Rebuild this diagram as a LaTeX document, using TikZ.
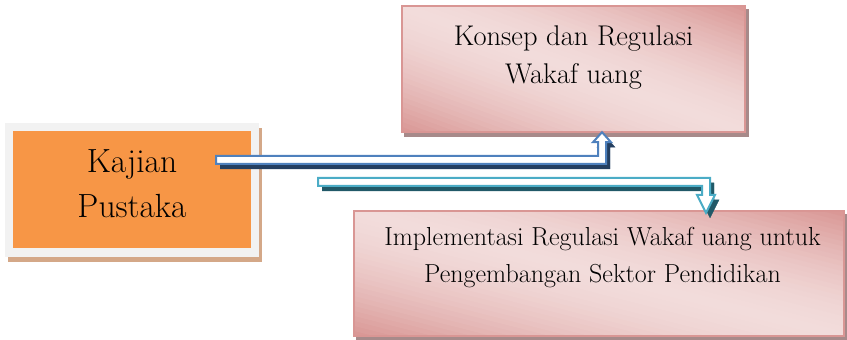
\documentclass[tikz,border=0pt]{standalone}
\definecolor{kajianorange}{RGB}{247,150,70}
\definecolor{kajianframe}{RGB}{242,242,242}
\definecolor{kajianshadow}{RGB}{212,168,136}
\definecolor{pinkdark}{RGB}{217,150,148}
\definecolor{pinklight}{RGB}{242,220,219}
\definecolor{pinkshadow}{RGB}{167,138,138}
\definecolor{arrowblue}{RGB}{79,129,189}
\definecolor{arrownavy}{RGB}{36,63,96}
\definecolor{arrowteal}{RGB}{75,172,198}
\definecolor{arrowdeep}{RGB}{33,89,104}

\begin{document}
\begin{tikzpicture}[x=1pt,y=1pt,
    arrowshadow/.style={preaction={fill=#1,draw=#1,transform canvas={shift={(4pt,-5pt)}}}},
    topic/.style={rectangle,inner sep=0pt},
    boxtext/.style={align=center,anchor=north,inner sep=0pt,transform shape,
        font=\fontsize{29}{#1}\selectfont},
    bentarrow/.style={draw=#1,fill=white,line width=2pt}]

    \useasboundingbox (0,0) rectangle (847,-340);

    % Boxes
    \node[rectangle,fill=kajianframe,minimum width=254pt,minimum height=134pt,inner sep=0pt,
        preaction={fill=kajianshadow,transform canvas={shift={(3pt,-5pt)}}},
        path picture={\fill[kajianorange] ([shift={(8pt,9pt)}]path picture bounding box.south west)
            rectangle ([shift={(-8pt,-8pt)}]path picture bounding box.north east);}]
        at (132,-190) (kajian) {};
    \node[topic,minimum width=342.5pt,minimum height=125.5pt] at (573.5,-69) (konsep) {};
    \node[topic,minimum width=489.5pt,minimum height=124.5pt] at (599,-273.5) (impl) {};

    % Pink gradient, shadow and border of the two topic boxes
    \foreach \topicname/\w/\h in {konsep/342.5/125.5,impl/489.5/124.5}{
        \fill[pinkshadow] ([shift={(1.75pt,-5.25pt)}]\topicname.south west) rectangle ([shift={(4.25pt,-2.75pt)}]\topicname.north east);
        \begin{scope}
            \clip (\topicname.south west) rectangle (\topicname.north east);
            \begin{scope}[shift={(\topicname.south west)},x=\w pt,y=\h pt]
                \foreach \t in {0,0.04,...,1.97}{
                    \pgfmathsetmacro\pct{100*(1-abs(\t+0.02-1)^1.6)}
                    \fill[pinklight!\pct!pinkdark] (\t,0) -- (\t+0.05,0) -- (0,\t+0.05) -- (0,\t) -- cycle;
                }
            \end{scope}
        \end{scope}
        \draw[pinkdark,line width=2.5pt] (\topicname.south west) rectangle (\topicname.north east);
    }

    % Texts (one font size, scaled)
    \node[boxtext=39,scale=1.155] at ([yshift=-27pt]kajian.north) (kajiantext) {Kajian\\Pustaka};
    \node[boxtext=38.7,scale=0.983] at ([yshift=-19pt]konsep.north) (konseptext) {Konsep dan Regulasi\\Wakaf uang};
    \node[boxtext=41.2,scale=0.897] at ([shift={(3.5pt,-15.8pt)}]impl.north) (impltext) {Implementasi Regulasi Wakaf uang untuk\\Pengembangan Sektor Pendidikan};

    % Arrow ends
    \coordinate (a1s) at ([shift={(-43pt,-37pt)}]kajian.north east);
    \coordinate (a1e) at ([shift={(28.5pt,-0.25pt)}]konsep.south);
    \coordinate (a2s) at ([shift={(59pt,-59pt)}]kajian.north east);
    \coordinate (a2e) at ([shift={(107pt,-1.75pt)}]impl.north);

    % Arrows
    \draw[bentarrow=arrowblue,arrowshadow=arrownavy] ([yshift=4pt]a1s) -| ([shift={(-4pt,-10pt)}]a1e)
        -- ++(-5pt,0) -- (a1e) -- ++(9pt,-10pt) -- ++(-5pt,0) |- ([yshift=-4pt]a1s) -- cycle;
    \draw[bentarrow=arrowteal,arrowshadow=arrowdeep] ([yshift=4pt]a2s) -| ([shift={(4pt,18pt)}]a2e)
        -- ++(5pt,0) -- (a2e) -- ++(-9pt,18pt) -- ++(5pt,0) |- ([yshift=-4pt]a2s) -- cycle;
\end{tikzpicture}
\end{document}
